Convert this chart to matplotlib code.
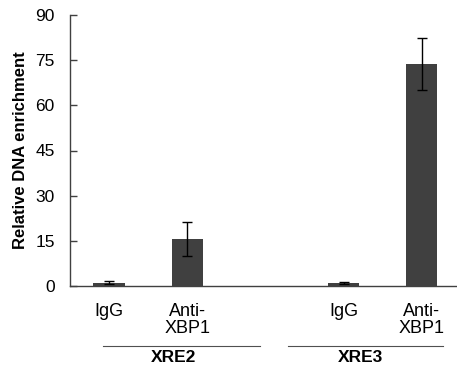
import numpy as np
import matplotlib
matplotlib.use("Agg")
import matplotlib.pyplot as plt
import matplotlib.transforms as mtransforms

plt.rcParams['font.family'] = ['Liberation Sans', 'DejaVu Sans']

# data
categories = ["IgG", "Anti-\nXBP1", "IgG", "Anti-\nXBP1"]
positions = [0, 1, 3, 4]
values = [1.0, 15.5, 0.9, 73.7]
errors = [0.5, 5.6, 0.3, 8.7]
groups = ["XRE2", "XRE3"]
group_spans = [(-0.08, 1.93), (2.29, 4.27)]
group_label_x = [0.83, 3.21]
yticks = [0, 15, 30, 45, 60, 75, 90]

W, H = 457, 367
fig = plt.figure(figsize=(W / 100, H / 100), dpi=100)
ax = fig.add_axes([70 / W, 1 - 286 / H, 1 - 70 / W, (286 - 15) / H])

ax.bar(positions, values, width=0.4, color="#404040",
       yerr=errors, error_kw=dict(ecolor="black", elinewidth=1.0,
                                 capsize=3.5, capthick=1.0))

ax.set_xlim(-0.5, 4.45)
ax.set_ylim(0, 90)
ax.set_yticks(yticks)
ax.tick_params(axis="y", labelsize=12.5, direction="in", length=5,
               width=1.0, color="#404040", pad=11)
ax.set_xticks(positions)
ax.set_xticklabels(categories, fontsize=13, linespacing=1.05)
ax.tick_params(axis="x", length=0, pad=12)

for s in ["top", "right"]:
    ax.spines[s].set_visible(False)
for s in ["left", "bottom"]:
    ax.spines[s].set_color("#404040")
    ax.spines[s].set_linewidth(1.0)

ax.set_ylabel("Relative DNA enrichment", fontsize=12, fontweight="bold", labelpad=5)

# group labels below the categories
trans = mtransforms.blended_transform_factory(ax.transData, fig.transFigure)
for name, (x0, x1), xl in zip(groups, group_spans, group_label_x):
    ax.plot([x0, x1], [1 - 346 / H, 1 - 346 / H], transform=trans,
            color="#505050", lw=0.8, clip_on=False)
    ax.text(xl, 1 - 357 / H, name, transform=trans,
            ha="center", va="center", fontsize=12.5, fontweight="bold")

fig.savefig("out.png", dpi=100)
